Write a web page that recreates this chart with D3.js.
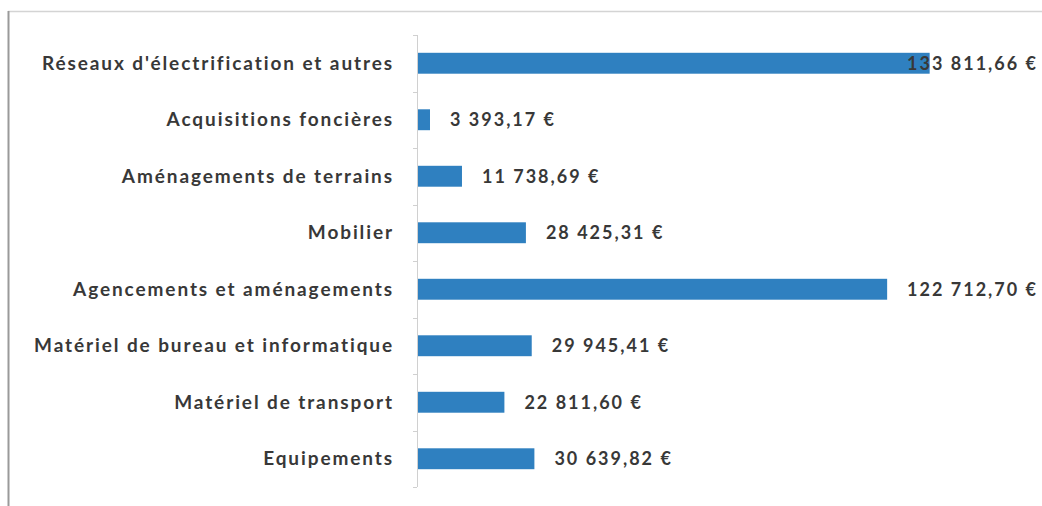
<!DOCTYPE html>
<html>
<head>
<meta charset="utf-8">
<script src="https://cdn.jsdelivr.net/npm/d3@7"></script>
<style>
  body { margin: 0; background: #fff; }
  text { font-family: Lato, "Open Sans", sans-serif; fill: #383838; }
</style>
</head>
<body>
<div id="chart"></div>
<script>
// categories, top to bottom
var categories = [
  "Réseaux d'électrification et autres",
  "Acquisitions foncières",
  "Aménagements de terrains",
  "Mobilier",
  "Agencements et aménagements",
  "Matériel de bureau et informatique",
  "Matériel de transport",
  "Equipements"
];

// amounts in euros
var amounts = [133811.66, 3393.17, 11738.69, 28425.31, 122712.70, 29945.41, 22811.60, 30639.82];

// value labels as printed on the chart
var valueLabels = [
  "133 811,66 €", "3 393,17 €", "11 738,69 €", "28 425,31 €",
  "122 712,70 €", "29 945,41 €", "22 811,60 €", "30 639,82 €"
];

var width = 1042;
var height = 506;

var svg = d3.select('#chart')
  .append('svg')
  .attr('width', width)
  .attr('height', height);

// chart frame (only top and left edges are visible in the picture)
svg.append('line')
  .attr('x1', 8).attr('x2', width)
  .attr('y1', 11.5).attr('y2', 11.5)
  .attr('stroke', '#d4d4d4').attr('stroke-width', 1.5);
svg.append('line')
  .attr('x1', 8.5).attr('x2', 8.5)
  .attr('y1', 11).attr('y2', height)
  .attr('stroke', '#9a9a9a').attr('stroke-width', 2);

var x = d3.scaleLinear()
  .domain([0, 160000])
  .range([417, 1030]);

var y = d3.scaleBand()
  .domain(categories)
  .range([35, 487])
  .paddingInner(0.63)
  .paddingOuter(0.315);

// bars
svg.selectAll('rect.bar')
  .data(amounts)
  .enter()
  .append('rect')
  .attr('class', 'bar')
  .attr('x', x(0))
  .attr('y', function(d, i) { return y(categories[i]); })
  .attr('width', function(d) { return x(d) - x(0); })
  .attr('height', y.bandwidth())
  .attr('fill', '#2f80c0');

// value labels, pushed back inside the frame when they would overflow
svg.selectAll('text.val')
  .data(amounts)
  .enter()
  .append('text')
  .attr('class', 'val')
  .attr('y', function(d, i) { return y(categories[i]) + y.bandwidth() / 2; })
  .attr('dy', '0.35em')
  .style('font-size', '18px')
  .style('font-weight', 'bold')
  .style('letter-spacing', '2px')
  .text(function(d, i) { return valueLabels[i]; })
  .attr('x', function(d) {
    var w = this.getComputedTextLength();
    return Math.min(x(d) + 20, 1038 - w);
  });

// category axis: line plus small ticks at the band boundaries
var axis = svg.append('g');
axis.append('line')
  .attr('x1', x(0) + 0.5).attr('x2', x(0) + 0.5)
  .attr('y1', 35).attr('y2', 487)
  .attr('stroke', '#d0d0d0');

var bounds = d3.range(categories.length + 1).map(function(i) { return 35 + i * (452 / categories.length); });
axis.selectAll('line.tick')
  .data(bounds)
  .enter()
  .append('line')
  .attr('class', 'tick')
  .attr('x1', x(0) - 4).attr('x2', x(0))
  .attr('y1', function(d) { return Math.round(d) + 0.5; })
  .attr('y2', function(d) { return Math.round(d) + 0.5; })
  .attr('stroke', '#d0d0d0');

// category labels
axis.selectAll('text.cat')
  .data(categories)
  .enter()
  .append('text')
  .attr('class', 'cat')
  .attr('x', x(0) - 23)
  .attr('y', function(d) { return y(d) + y.bandwidth() / 2; })
  .attr('dy', '0.35em')
  .attr('text-anchor', 'end')
  .style('font-size', '19px')
  .style('font-weight', 'bold')
  .style('letter-spacing', '1.9px')
  .text(function(d) { return d; });
</script>
</body>
</html>
